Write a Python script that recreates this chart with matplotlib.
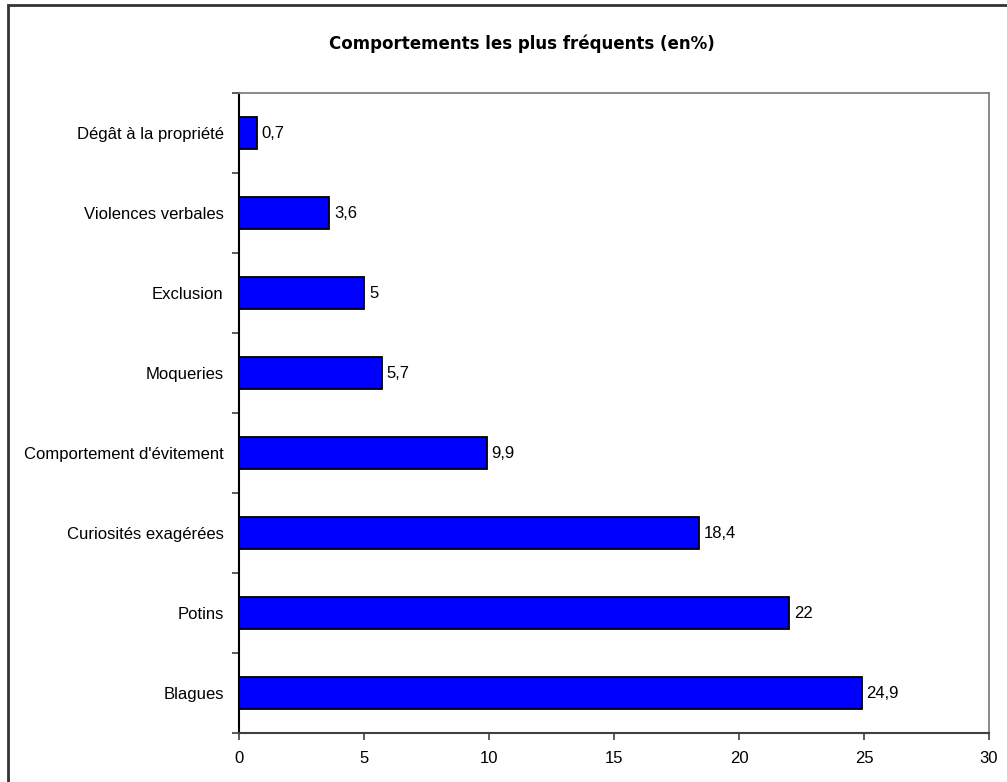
import numpy as np
from matplotlib import pyplot as plt
from matplotlib.patches import Rectangle

categories = ["Blagues", "Potins", "Curiosités exagérées", "Comportement d'évitement",
              "Moqueries", "Exclusion", "Violences verbales", "Dégât à la propriété"]
values = [24.9, 22, 18.4, 9.9, 5.7, 5, 3.6, 0.7]
xticks = [0, 5, 10, 15, 20, 25, 30]

plt.rcParams['font.family'] = ['Liberation Sans', 'DejaVu Sans']

fig = plt.figure(figsize=(10.07, 7.82), dpi=100)
ax = fig.add_axes([239 / 1007, 1 - 733 / 782, 750 / 1007, 640 / 782])

ypos = np.arange(len(categories))
ax.barh(ypos, values, height=0.4, color='#0000ff', edgecolor='black', linewidth=1.3)

for y, v in zip(ypos, values):
    label = ('%g' % v).replace('.', ',')
    ax.text(v + 0.2, y, label, va='center', ha='left', fontsize=12)

ax.set_xlim(0, 30)
ax.set_ylim(-0.5, len(categories) - 0.5)
ax.set_xticks(xticks)
ax.set_yticks(ypos)
ax.set_yticklabels(categories)
ax.set_yticks(np.arange(len(categories) + 1) - 0.5, minor=True)
ax.tick_params(axis='y', which='major', length=0, pad=11, labelsize=12)
ax.tick_params(axis='y', which='minor', length=5, width=1.2, color='#404040')
ax.tick_params(axis='x', length=5, width=1.2, color='#404040', pad=8, labelsize=12)

ax.spines['left'].set_color('black')
ax.spines['left'].set_linewidth(1.5)
ax.spines['bottom'].set_color('#404040')
ax.spines['bottom'].set_linewidth(1.5)
ax.spines['top'].set_color('#808080')
ax.spines['right'].set_color('#808080')
ax.spines['top'].set_linewidth(1.3)
ax.spines['right'].set_linewidth(1.3)

fig.text(522 / 1007, 1 - 44 / 782, "Comportements les plus fréquents (en%)",
         ha='center', va='center', fontsize=12, fontweight='heavy', family='DejaVu Sans')

fig.add_artist(Rectangle((8 / 1007, -0.1), 1.2, 1 - 5 / 782 + 0.1, transform=fig.transFigure,
                         fill=False, edgecolor='#333333', linewidth=2))

fig.savefig('out.png', dpi=100)
